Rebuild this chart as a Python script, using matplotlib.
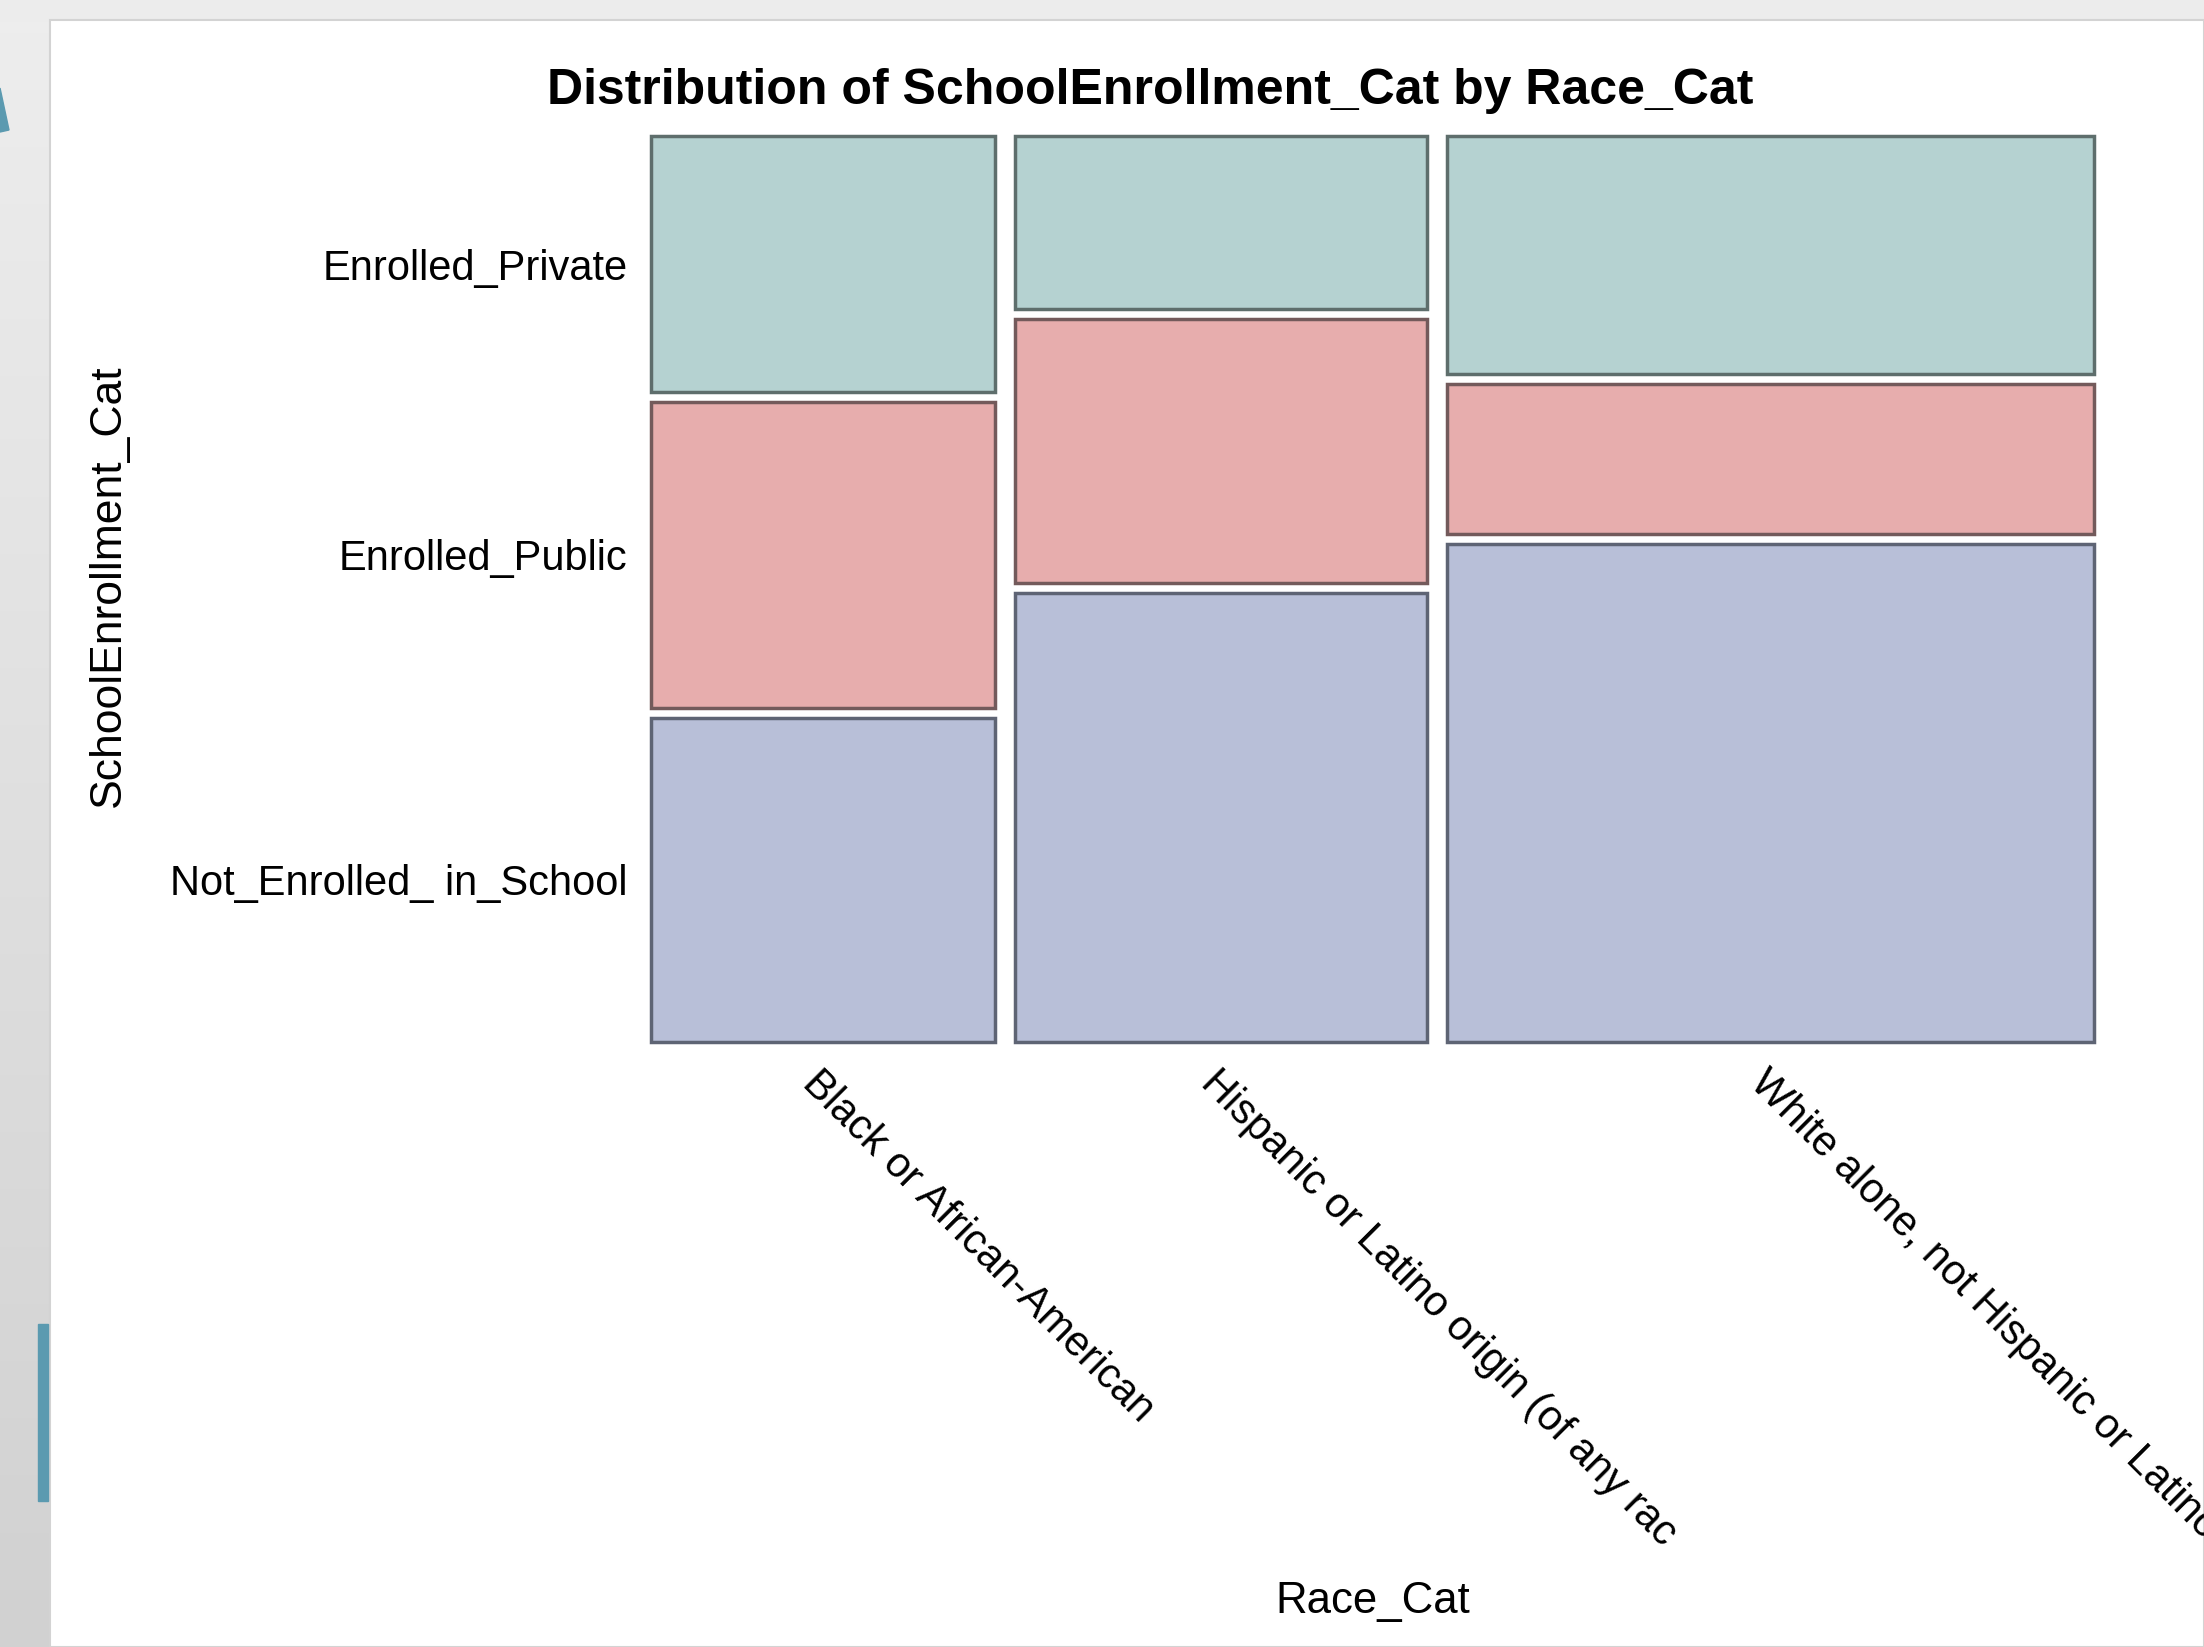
import numpy as np
import matplotlib.pyplot as plt
from matplotlib.patches import Rectangle, Polygon

plt.rcParams['font.family'] = ['Liberation Sans', 'DejaVu Sans']

# data: column share of each race group, and row shares inside each column
races = ['Black or African-American',
         'Hispanic or Latino origin (of any rac',
         'White alone, not Hispanic or Latino']
levels = ['Not_Enrolled_ in_School', 'Enrolled_Public', 'Enrolled_Private']
race_share = [0.245, 0.294, 0.461]
not_enrolled = [0.366, 0.507, 0.562]
enrolled_public = [0.345, 0.298, 0.169]
enrolled_private = [0.289, 0.195, 0.269]

fills = ['#b8bfd8', '#e7adad', '#b5d2d1']
edges = ['#5e6474', '#735a5b', '#5e6e6c']

W, H = 2204, 1647
fig = plt.figure(figsize=(W / 100, H / 100), dpi=100)
fig.patch.set_facecolor('#ececec')

# background panel (screenshot frame)
bg = fig.add_axes([0, 0, 1, 1])
bg.set_xlim(0, W)
bg.set_ylim(H, 0)
bg.axis('off')
grad = np.linspace(0.93, 0.82, 256).reshape(-1, 1)
bg.imshow(np.dstack([grad] * 3), extent=[0, 50, H, 20], aspect='auto', zorder=0)
bg.add_patch(Rectangle((0, 0), W, 20, color='#ececec', zorder=1))
bg.add_patch(Rectangle((50, 20), W - 50, H - 20, facecolor='white',
                       edgecolor='#d3d3d3', lw=1.5, zorder=2))
bg.add_patch(Rectangle((38, 1324), 10, 177, color='#5b9ab0', zorder=3))
bg.add_patch(Polygon([[0, 88], [9, 130], [0, 132]], color='#5b9ab0', zorder=3))

ax = fig.add_axes([651 / W, 1 - 1042 / H, 1443 / W, 906 / H])
ax.set_xlim(0, 1)
ax.set_ylim(0, 1)

gx = 19.7 / 1443
gy = 10 / 906
usable_x = 1 - gx * (len(races) - 1)
usable_y = 1 - gy * (len(levels) - 1)

shares = [not_enrolled, enrolled_public, enrolled_private]
x0 = 0
centers_x = []
first_centers_y = []
for i, w in enumerate(race_share):
    width = w * usable_x
    y0 = 0
    for j, s in enumerate(shares):
        h = s[i] * usable_y
        ax.add_patch(Rectangle((x0, y0), width, h, facecolor=fills[j],
                               edgecolor=edges[j], lw=2.5, clip_on=False))
        if i == 0:
            first_centers_y.append(y0 + h / 2)
        y0 += h + gy
    centers_x.append(x0 + width / 2)
    x0 += width + gx

for sp in ax.spines.values():
    sp.set_visible(False)

ax.set_yticks(first_centers_y)
ax.set_yticklabels(levels, fontsize=30)
ax.set_xticks(centers_x)
ax.set_xticklabels(races, fontsize=30, rotation=-45, ha='left',
                   rotation_mode='anchor')
ax.tick_params(length=0)
ax.tick_params(axis='y', pad=17)
ax.tick_params(axis='x', pad=15)

fig.text(1150 / W, 1 - 91 / H, 'Distribution of SchoolEnrollment_Cat by Race_Cat',
         ha='center', va='center', fontsize=36, fontweight='bold')
fig.text(1373 / W, 1 - 1601 / H, 'Race_Cat', ha='center', va='center', fontsize=31.5)
fig.text(108 / W, 1 - 586 / H, 'SchoolEnrollment_Cat', ha='center', va='center',
         fontsize=32, rotation=90)

fig.savefig('out.png', dpi=100)
